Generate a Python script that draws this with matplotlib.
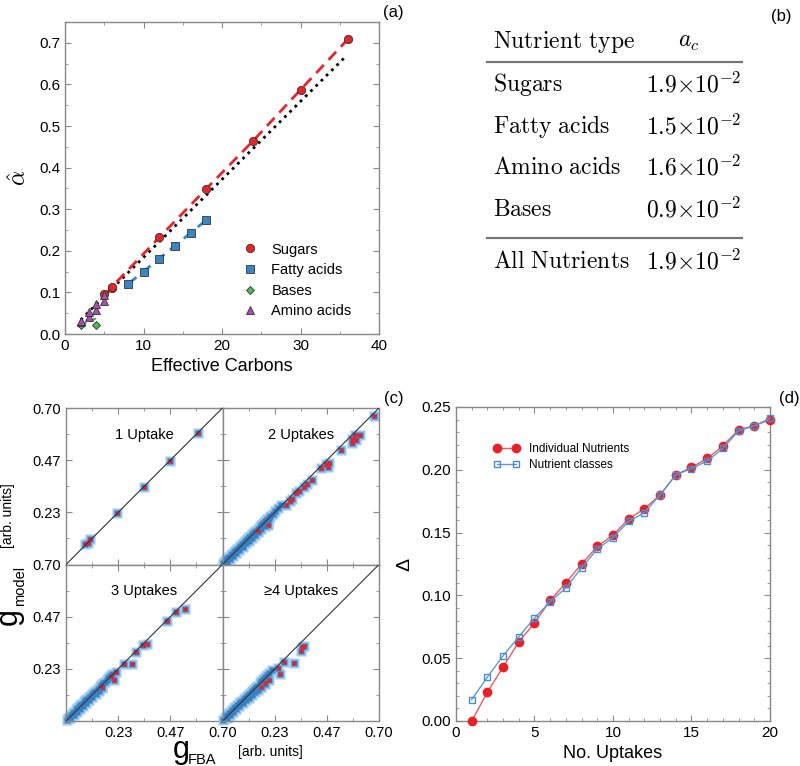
#
# Carbon cost figure: four panels (a)-(d)
#
import numpy as np
import matplotlib.pyplot as plt
from matplotlib.ticker import MultipleLocator, FixedLocator, NullFormatter
from matplotlib.lines import Line2D

plt.rcParams['font.family'] = ['Liberation Sans', 'DejaVu Sans']
plt.rcParams['mathtext.fontset'] = 'cm'

# ---------------- data ----------------
# (a) alpha hat vs effective carbons
sugar_c = [5, 6, 6, 12, 18, 24, 30, 36]
sugar_a = [0.095, 0.111, 0.114, 0.232, 0.349, 0.465, 0.587, 0.708]
fatty_c = [8, 10, 12, 14, 16, 18]
fatty_a = [0.120, 0.150, 0.181, 0.212, 0.243, 0.274]
base_c = [2, 4]
base_a = [0.022, 0.022]
amino_c = [2, 2, 3, 3, 4, 4, 5, 5]
amino_a = [0.028, 0.032, 0.042, 0.052, 0.058, 0.071, 0.079, 0.093]
fit_base_c = [2, 4]
fit_base_a = [0.021, 0.038]
fit_all_c = [2, 35.7]
fit_all_a = [0.034, 0.666]

# (b) table
table_names = ['Sugars', 'Fatty acids', 'Amino acids', 'Bases']
table_mant = ['1.9', '1.5', '1.6', '0.9']
all_name = 'All Nutrients'
all_mant = '1.9'

# (c) g_model vs g_FBA, four panels
# 1 uptake
u1_fba = [0.087, 0.097, 0.107, 0.230, 0.348, 0.467, 0.589]
u1_mod = [0.090, 0.094, 0.112, 0.229, 0.348, 0.465, 0.586]
u1_dense_fba = []
u1_dense_mod = []
# 2 uptakes
u2_fba = [0.160, 0.203, 0.283, 0.300, 0.310, 0.328, 0.340, 0.366, 0.380, 0.401,
          0.441, 0.461, 0.471, 0.476, 0.528, 0.577, 0.581, 0.592, 0.599, 0.614, 0.679]
u2_mod = [0.150, 0.175, 0.265, 0.285, 0.295, 0.318, 0.330, 0.348, 0.362, 0.378,
          0.430, 0.450, 0.438, 0.455, 0.513, 0.543, 0.561, 0.577, 0.558, 0.580, 0.663]
u2_dense_fba = [0.004, 0.010, 0.016, 0.022, 0.030, 0.036, 0.044, 0.050, 0.058, 0.064,
                0.072, 0.080, 0.086, 0.094, 0.102, 0.110, 0.118, 0.126, 0.134, 0.142,
                0.150, 0.158, 0.166, 0.174, 0.182, 0.190, 0.198, 0.206, 0.214, 0.224,
                0.236, 0.248, 0.262, 0.020, 0.034, 0.048, 0.062, 0.076, 0.090, 0.104,
                0.118, 0.132, 0.146, 0.160, 0.174, 0.188, 0.202]
u2_dense_mod = [0.006, 0.014, 0.020, 0.028, 0.034, 0.042, 0.048, 0.056, 0.062, 0.070,
                0.076, 0.084, 0.092, 0.098, 0.106, 0.114, 0.122, 0.128, 0.136, 0.144,
                0.152, 0.160, 0.168, 0.176, 0.184, 0.194, 0.202, 0.210, 0.218, 0.228,
                0.238, 0.252, 0.266, 0.010, 0.024, 0.038, 0.052, 0.066, 0.080, 0.094,
                0.106, 0.120, 0.134, 0.146, 0.160, 0.172, 0.186]
# 3 uptakes
u3_fba = [0.160, 0.200, 0.215, 0.223, 0.260, 0.295, 0.313, 0.343, 0.363, 0.453, 0.491, 0.532]
u3_mod = [0.150, 0.201, 0.183, 0.220, 0.257, 0.254, 0.309, 0.339, 0.346, 0.447, 0.487, 0.502]
u3_dense_fba = [0.004, 0.010, 0.016, 0.022, 0.030, 0.036, 0.044, 0.050, 0.058, 0.064,
                0.072, 0.080, 0.086, 0.094, 0.102, 0.110, 0.118, 0.126, 0.134, 0.142,
                0.150, 0.158, 0.166, 0.174, 0.182, 0.190, 0.198, 0.206, 0.020, 0.034,
                0.048, 0.062, 0.076, 0.090, 0.104, 0.118, 0.132, 0.146, 0.160]
u3_dense_mod = [0.006, 0.014, 0.020, 0.028, 0.034, 0.042, 0.048, 0.056, 0.062, 0.070,
                0.076, 0.084, 0.092, 0.098, 0.106, 0.114, 0.122, 0.128, 0.136, 0.144,
                0.152, 0.160, 0.168, 0.176, 0.184, 0.192, 0.200, 0.208, 0.012, 0.026,
                0.040, 0.054, 0.068, 0.082, 0.096, 0.108, 0.122, 0.136, 0.148]
# 4 or more uptakes
u4_fba = [0.170, 0.190, 0.208, 0.250, 0.256, 0.276, 0.318, 0.351, 0.355, 0.366]
u4_mod = [0.150, 0.172, 0.183, 0.235, 0.212, 0.264, 0.260, 0.313, 0.331, 0.334]
u4_dense_fba = [0.004, 0.010, 0.016, 0.022, 0.030, 0.036, 0.044, 0.050, 0.058, 0.064,
                0.072, 0.080, 0.086, 0.094, 0.102, 0.110, 0.118, 0.126, 0.134, 0.142,
                0.150, 0.158, 0.166, 0.174, 0.182, 0.190, 0.198, 0.210, 0.220, 0.020,
                0.034, 0.048, 0.062, 0.076, 0.090, 0.104, 0.118, 0.132, 0.146, 0.160,
                0.174, 0.188]
u4_dense_mod = [0.006, 0.014, 0.020, 0.028, 0.034, 0.042, 0.048, 0.056, 0.062, 0.070,
                0.076, 0.084, 0.090, 0.098, 0.104, 0.112, 0.120, 0.126, 0.134, 0.142,
                0.150, 0.158, 0.170, 0.180, 0.190, 0.196, 0.206, 0.216, 0.226, 0.012,
                0.026, 0.040, 0.054, 0.066, 0.080, 0.092, 0.104, 0.116, 0.128, 0.140,
                0.152, 0.164]
panel_titles = ['1 Uptake', '2 Uptakes', '3 Uptakes', '\u22654 Uptakes']
g_lim = 0.70
g_ticks = [0.2333, 0.4667, 0.70]
g_minor = [0.1167, 0.35, 0.5833]
g_ticklabels = ['0.23', '0.47', '0.70']

# (d) Delta vs number of uptakes
n_uptakes = list(range(1, 21))
delta_indiv = [0.000, 0.023, 0.043, 0.063, 0.078, 0.096, 0.110, 0.125, 0.139, 0.148,
               0.161, 0.169, 0.180, 0.196, 0.202, 0.209, 0.219, 0.232, 0.235, 0.240]
delta_class = [0.017, 0.035, 0.052, 0.067, 0.082, 0.095, 0.106, 0.122, 0.137, 0.146,
               0.159, 0.166, 0.180, 0.196, 0.201, 0.207, 0.217, 0.231, 0.235, 0.241]

# ---------------- layout helpers ----------------
W, H = 800, 766
spine_col = '#888888'


def box(l, t, r, b):
    return [l / W, 1 - b / H, (r - l) / W, (b - t) / H]


def px(x, y):
    return x / W, 1 - y / H


def style_axes(ax):
    for s in ax.spines.values():
        s.set_color(spine_col)
        s.set_linewidth(1.0)
    ax.tick_params(which='both', direction='in', top=True, right=True,
                   color=spine_col, labelsize=11)
    ax.tick_params(which='major', length=4)
    ax.tick_params(which='minor', length=2)


fig = plt.figure(figsize=(W / 100, H / 100), dpi=100)

# ---------------- (a) ----------------
ax = fig.add_axes(box(65, 22, 379, 334))
style_axes(ax)
ax.plot(fit_all_c, fit_all_a, ':', color='black', lw=2, zorder=1)
ax.plot(sugar_c, sugar_a, '--', color='#e3262b', lw=2, dashes=(4, 2.5), zorder=2)
ax.plot(fatty_c, fatty_a, '--', color='#3a86c5', lw=2, dashes=(4, 2.5), zorder=2)
ax.plot(fit_base_c, fit_base_a, '--', color='#3fae49', lw=1.5, dashes=(3, 2), zorder=2)
ax.plot(sugar_c, sugar_a, 'o', ms=6, mfc='#e3262b', mec='#333333', mew=0.6,
        ls='none', label='Sugars', zorder=4)
ax.plot(fatty_c, fatty_a, 's', ms=5.5, mfc='#3a86c5', mec='#333333', mew=0.6,
        ls='none', label='Fatty acids', zorder=4)
ax.plot(base_c, base_a, 'D', ms=4.5, mfc='#4fb857', mec='#333333', mew=0.6,
        ls='none', label='Bases', zorder=4)
ax.plot(amino_c, amino_a, '^', ms=6, mfc='#a452a8', mec='#333333', mew=0.6,
        ls='none', label='Amino acids', zorder=4)
ax.set_xlim(0, 40)
ax.set_ylim(0, 0.75)
ax.xaxis.set_major_locator(MultipleLocator(10))
ax.xaxis.set_minor_locator(MultipleLocator(5))
ax.yaxis.set_major_locator(MultipleLocator(0.1))
ax.yaxis.set_minor_locator(MultipleLocator(0.05))
ax.set_xlabel('Effective Carbons', fontsize=13, labelpad=4)
ax.set_ylabel(r'$\hat{\alpha}$', fontsize=17, labelpad=6)
ax.legend(loc='upper left', bbox_to_anchor=(0.56, 0.293), frameon=False,
          fontsize=10.5, handlelength=1.2, handletextpad=0.9, labelspacing=0.45,
          borderpad=0, borderaxespad=0)

# ---------------- (b) table ----------------
tfs = 17
tx_l, tx_r = 493, 741
fig.text(*px(tx_l, 42), r'$\mathrm{Nutrient\ type}$', fontsize=tfs, va='center', ha='left')
fig.text(*px(689, 42), r'$a_c$', fontsize=tfs, va='center', ha='center')
row_y = [85, 127, 168, 210]
for name, m, yy in zip(table_names, table_mant, row_y):
    fig.text(*px(tx_l, yy), r'$\mathrm{' + name.replace(' ', r'\ ') + '}$',
             fontsize=tfs, va='center', ha='left')
    fig.text(*px(tx_r, yy), r'$' + m + r'{\times}10^{-2}$',
             fontsize=tfs, va='center', ha='right')
fig.text(*px(tx_l, 262), r'$\mathrm{' + all_name.replace(' ', r'\ ') + '}$',
         fontsize=tfs, va='center', ha='left')
fig.text(*px(tx_r, 262), r'$' + all_mant + r'{\times}10^{-2}$',
         fontsize=tfs, va='center', ha='right')
for yy in [62, 238]:
    fig.add_artist(Line2D([487 / W, 742 / W], [1 - yy / H, 1 - yy / H],
                          color='#777777', lw=1.6))

# ---------------- (c) ----------------
sets = [(u1_fba, u1_mod, u1_dense_fba, u1_dense_mod),
        (u2_fba, u2_mod, u2_dense_fba, u2_dense_mod),
        (u3_fba, u3_mod, u3_dense_fba, u3_dense_mod),
        (u4_fba, u4_mod, u4_dense_fba, u4_dense_mod)]
c_l, c_t, c_r, c_b = 66, 408, 379, 721
c_w = (c_r - c_l) / 2
c_h = (c_b - c_t) / 2
for k, (gf, gm, df, dm) in enumerate(sets):
    i, j = divmod(k, 2)
    l = c_l + j * c_w
    t = c_t + i * c_h
    ax = fig.add_axes(box(l, t, l + c_w, t + c_h))
    style_axes(ax)
    ax.plot([0, g_lim], [0, g_lim], color='#333333', lw=0.8, zorder=4)
    # light blue halo, then blue squares, then red centres
    ax.plot(df + gf, dm + gm, 's', ms=7.5, mfc='#9cc8ee', mec='none',
            ls='none', zorder=1, clip_on=False)
    ax.plot(df + gf, dm + gm, 's', ms=5, mfc='#3a7fc0', mec='none',
            ls='none', zorder=2, clip_on=False)
    ax.plot(gf, gm, 's', ms=3.2, mfc='#e8202a', mec='none',
            ls='none', zorder=3, clip_on=False)
    ax.set_xlim(0, g_lim)
    ax.set_ylim(0, g_lim)
    ax.xaxis.set_major_locator(FixedLocator(g_ticks))
    ax.yaxis.set_major_locator(FixedLocator(g_ticks))
    ax.xaxis.set_minor_locator(FixedLocator(g_minor))
    ax.yaxis.set_minor_locator(FixedLocator(g_minor))
    if j == 0:
        ax.set_yticklabels(g_ticklabels)
    else:
        ax.yaxis.set_major_formatter(NullFormatter())
    if i == 1:
        ax.set_xticklabels(g_ticklabels)
    else:
        ax.xaxis.set_major_formatter(NullFormatter())
    ax.tick_params(labelsize=10.5)
    ax.text(0.5, 0.83, panel_titles[k], transform=ax.transAxes, ha='center',
            va='center', fontsize=10.5)

# axis labels of (c): big g with small subscript, plus units
fig.text(*px(17, 625), 'g', fontsize=22, rotation=90, rotation_mode='anchor',
         ha='left', va='baseline')
fig.text(*px(24, 606), 'model', fontsize=10.5, rotation=90, rotation_mode='anchor',
         ha='left', va='baseline')
fig.text(*px(8, 516), '[arb. units]', fontsize=10, rotation=90,
         ha='center', va='center')
fig.text(*px(173, 758), 'g', fontsize=22, ha='left', va='baseline')
fig.text(*px(188, 764), 'FBA', fontsize=10.5, ha='left', va='baseline')
fig.text(*px(270, 752), '[arb. units]', fontsize=10, ha='center', va='center')

# ---------------- (d) ----------------
ax = fig.add_axes(box(456, 407, 770, 721))
style_axes(ax)
ax.plot(n_uptakes, delta_indiv, '-o', color='#ec5a5c', lw=1.0, ms=6,
        mfc='#e8202a', mec='#e8202a', label='Individual Nutrients', zorder=3,
        clip_on=False)
ax.plot(n_uptakes, delta_class, '-s', color='#5b9bd5', lw=1.0, ms=5,
        mfc='none', mec='#4a8ccc', mew=1.0, label='Nutrient classes', zorder=4,
        clip_on=False)
ax.set_xlim(0, 20)
ax.set_ylim(0, 0.25)
ax.xaxis.set_major_locator(MultipleLocator(5))
ax.xaxis.set_minor_locator(MultipleLocator(1))
ax.yaxis.set_major_locator(MultipleLocator(0.05))
ax.yaxis.set_minor_locator(MultipleLocator(0.01))
ax.yaxis.set_major_formatter(plt.FormatStrFormatter('%.2f'))
ax.set_xlabel('No. Uptakes', fontsize=13, labelpad=4)
ax.set_ylabel('\u0394', fontsize=14, labelpad=6)
ax.legend(loc='upper left', bbox_to_anchor=(0.12, 0.885), frameon=False,
          fontsize=8.5, numpoints=2, handlelength=2.2, handletextpad=0.8,
          labelspacing=0.35, borderpad=0, borderaxespad=0)

# ---------------- panel letters ----------------
for lab, (xx, yy) in zip(['(a)', '(b)', '(c)', '(d)'],
                         [(393, 12), (781, 16), (394, 398), (789, 398)]):
    fig.text(*px(xx, yy), lab, fontsize=12, ha='center', va='center')

fig.savefig('out.png', dpi=100)
